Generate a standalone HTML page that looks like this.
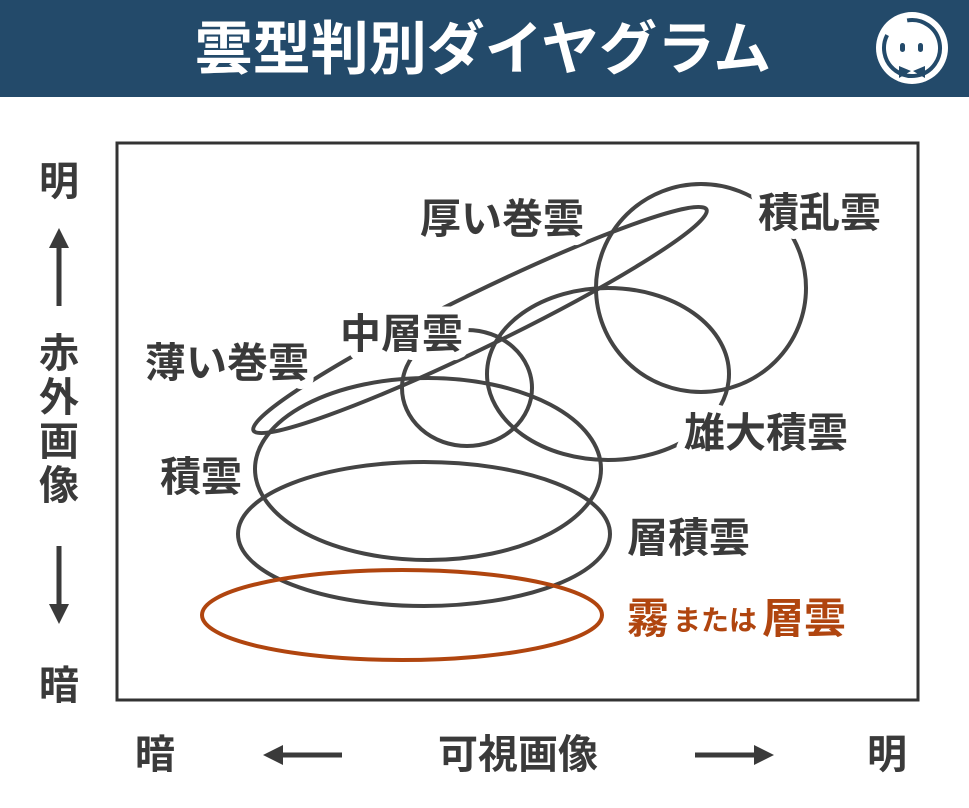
<!DOCTYPE html>
<html><head><meta charset="utf-8"><style>
html,body{margin:0;padding:0;background:#fff;width:969px;height:808px;overflow:hidden}
svg text{font-family:"Liberation Sans","Noto Sans CJK JP",sans-serif;font-weight:bold}
</style></head><body>
<svg width="969" height="808" viewBox="0 0 969 808" xmlns="http://www.w3.org/2000/svg">
<rect x="0" y="0" width="969" height="97" fill="#234a6a"/>
<text x="483" y="69" font-size="58" fill="#fff" text-anchor="middle">雲型判別ダイヤグラム</text>
<circle cx="912" cy="48" r="36" fill="#fff"/>
<circle cx="912" cy="48" r="28" fill="none" stroke="#234a6a" stroke-width="4" stroke-dasharray="150 26" transform="rotate(-100 912 48)"/>
<circle cx="912" cy="47" r="21" fill="#fff"/>
<rect x="900" y="43" width="5" height="9" rx="2.5" fill="#234a6a"/>
<rect x="918" y="43" width="5" height="9" rx="2.5" fill="#234a6a"/>
<path d="M899 66 L911 71 L899 78 Z M925 66 L913 71 L925 78 Z" fill="#234a6a"/>
<rect x="117" y="143" width="801" height="557" fill="none" stroke="#333" stroke-width="3"/>
<g fill="none" stroke="#444" stroke-width="4">
<ellipse cx="701" cy="288" rx="105" ry="104"/>
<ellipse cx="608" cy="374" rx="121" ry="86"/>
<ellipse cx="467" cy="388" rx="65" ry="58"/>
<ellipse cx="480" cy="320" rx="252" ry="27" transform="rotate(-26 480 320)"/>
<ellipse cx="428" cy="469" rx="173" ry="91"/>
<ellipse cx="424" cy="534" rx="186" ry="72"/>
</g>
<ellipse cx="402" cy="615" rx="200" ry="45" fill="none" stroke="#b0450f" stroke-width="4"/>
<g font-size="41" fill="#3a3a3a" stroke="#fff" stroke-width="16" paint-order="stroke" stroke-linejoin="round">
<text x="420" y="233">厚い巻雲</text>
<text x="758" y="227">積乱雲</text>
<text x="340" y="348">中層雲</text>
<text x="145" y="377">薄い巻雲</text>
<text x="684" y="447">雄大積雲</text>
<text x="160" y="491">積雲</text>
<text x="627" y="552">層積雲</text>
</g>
<g fill="#b0450f" stroke="#fff" stroke-width="10" paint-order="stroke">
<text x="627" y="633" font-size="42">霧</text>
<text x="673" y="630" font-size="28">または</text>
<text x="762" y="633" font-size="42">層雲</text>
</g>
<g font-size="40" fill="#3a3a3a" text-anchor="middle">
<text x="59" y="195">明</text>
<text x="59" y="367">赤</text>
<text x="59" y="411">外</text>
<text x="59" y="455">画</text>
<text x="59" y="499">像</text>
<text x="59" y="699">暗</text>
<text x="155" y="768">暗</text>
<text x="518" y="768">可視画像</text>
<text x="887" y="768">明</text>
</g>
<g stroke="#3a3a3a" stroke-width="5" fill="#3a3a3a">
<line x1="59" y1="245" x2="59" y2="306"/>
<path d="M49 248 L59 228 L69 248 Z" stroke="none"/>
<line x1="59" y1="546" x2="59" y2="607"/>
<path d="M49 604 L59 624 L69 604 Z" stroke="none"/>
<line x1="280" y1="755" x2="342" y2="755"/>
<path d="M283 745 L263 755 L283 765 Z" stroke="none"/>
<line x1="695" y1="755" x2="757" y2="755"/>
<path d="M754 745 L774 755 L754 765 Z" stroke="none"/>
</g>
</svg>
</body></html>
